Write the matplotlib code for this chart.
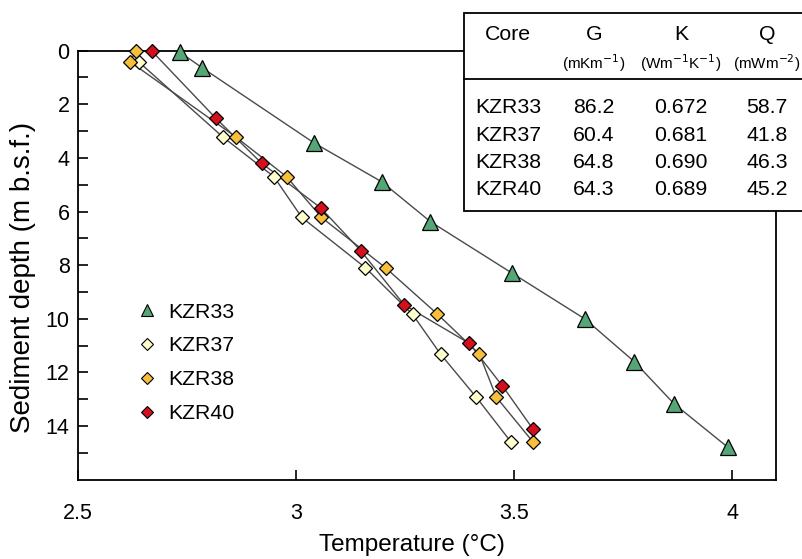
import numpy as np
import matplotlib
matplotlib.use("Agg")
import matplotlib.pyplot as plt
from matplotlib.lines import Line2D
from matplotlib.patches import Rectangle
from matplotlib.ticker import FixedLocator, MultipleLocator, FormatStrFormatter

plt.rcParams['font.family'] = ['Liberation Sans', 'DejaVu Sans']

# temperature (deg C) and depth (m b.s.f.) for each core
t33 = [2.733, 2.784, 3.040, 3.196, 3.308, 3.495, 3.662, 3.775, 3.866, 3.989]
d33 = [0.05, 0.63, 3.43, 4.89, 6.38, 8.30, 10.01, 11.60, 13.17, 14.79]
t37 = [2.640, 2.832, 2.949, 3.013, 3.159, 3.267, 3.331, 3.413, 3.493]
d37 = [0.43, 3.22, 4.70, 6.22, 8.10, 9.84, 11.32, 12.93, 14.61]
t38 = [2.633, 2.619, 2.862, 2.978, 3.058, 3.205, 3.324, 3.420, 3.459, 3.543]
d38 = [0.01, 0.41, 3.22, 4.70, 6.22, 8.10, 9.83, 11.32, 12.93, 14.60]
t40 = [2.669, 2.816, 2.921, 3.056, 3.148, 3.248, 3.397, 3.473, 3.543]
d40 = [0.01, 2.52, 4.20, 5.86, 7.46, 9.49, 10.92, 12.51, 14.12]

cores = ["KZR33", "KZR37", "KZR38", "KZR40"]
G = ["86.2", "60.4", "64.8", "64.3"]
K = ["0.672", "0.681", "0.690", "0.689"]
Q = ["58.7", "41.8", "46.3", "45.2"]

W, H = 802, 559
fig = plt.figure(figsize=(W / 100, H / 100), dpi=100)
ax = fig.add_axes([78 / W, 1 - 479.5 / H, (776 - 78) / W, (479.5 - 50.7) / H])

lc = "#4a4a4a"
styles = [
    (t33, d33, "^", "#55a676", 11),
    (t37, d37, "D", "#ffffcc", 7),
    (t38, d38, "D", "#f7bf3c", 7),
    (t40, d40, "D", "#d4101c", 7),
]
for t, d, m, fc, ms in styles:
    ax.plot(t, d, color=lc, lw=1.0, zorder=2)
    ax.plot(t, d, ls="none", marker=m, ms=ms, mfc=fc, mec="black", mew=0.9, zorder=3, clip_on=False)

ax.set_xlim(2.5, 4.1)
ax.set_ylim(16, 0)
ax.xaxis.set_major_locator(MultipleLocator(0.5))
ax.xaxis.set_major_formatter(FormatStrFormatter("%g"))
ax.yaxis.set_major_locator(FixedLocator(range(0, 15, 2)))
ax.yaxis.set_minor_locator(FixedLocator(range(1, 16, 2)))
ax.tick_params(axis="both", which="both", direction="in", length=7, width=1.2, labelsize=15.5)
ax.tick_params(axis="y", pad=6)
ax.tick_params(axis="x", pad=17)
ax.tick_params(top=False, right=False)
for s in ax.spines.values():
    s.set_linewidth(1.3)

ax.set_xlabel("Temperature (°C)", fontsize=17.5)
ax.set_ylabel("Sediment depth (m b.s.f.)", fontsize=20)
ax.xaxis.set_label_coords(0.478, -0.127)
ax.yaxis.set_label_coords(-0.060, 0.472)

handles = [Line2D([], [], ls="none", marker=m, ms=ms * 0.85, mfc=fc, mec="black", mew=0.8)
           for _, _, m, fc, ms in styles]
ax.legend(handles, cores, loc="upper left",
          bbox_to_anchor=(47 / (776 - 78), 1 - (294 - 50.7) / (479.5 - 50.7)),
          frameon=False, fontsize=15.3, handletextpad=0.35, labelspacing=0.7, handlelength=1.3,
          borderaxespad=0)

# parameter table in the upper right
def fx(px):
    return px / W

def fy(py):
    return 1 - py / H

fig.add_artist(Rectangle((fx(464), fy(211)), fx(820) - fx(464), fy(13) - fy(211),
                         transform=fig.transFigure, facecolor="white", edgecolor="black",
                         lw=1.3, zorder=5, clip_on=False))
fig.add_artist(Line2D([fx(464), fx(820)], [fy(79), fy(79)], transform=fig.transFigure,
                      color="black", lw=1.3, zorder=6))

cols = [508, 594, 681, 767]
heads = ["Core", "G", "K", "Q"]
units = ["", "(mKm$^{-1}$)", "(Wm$^{-1}$K$^{-1}$)", "(mWm$^{-2}$)"]
for x, h, u in zip(cols, heads, units):
    fig.text(fx(x), fy(35), h, ha="center", va="center", fontsize=15.3, zorder=7)
    if u:
        fig.text(fx(x), fy(63), u, ha="center", va="center", fontsize=11, zorder=7)

rows = [108, 135.5, 162.5, 189.5]
for i, y in enumerate(rows):
    vals = [cores[i], G[i], K[i], Q[i]]
    for x, v in zip(cols, vals):
        fig.text(fx(x), fy(y), v, ha="center", va="center", fontsize=15.3, zorder=7)

fig.savefig("out.png", dpi=100)
